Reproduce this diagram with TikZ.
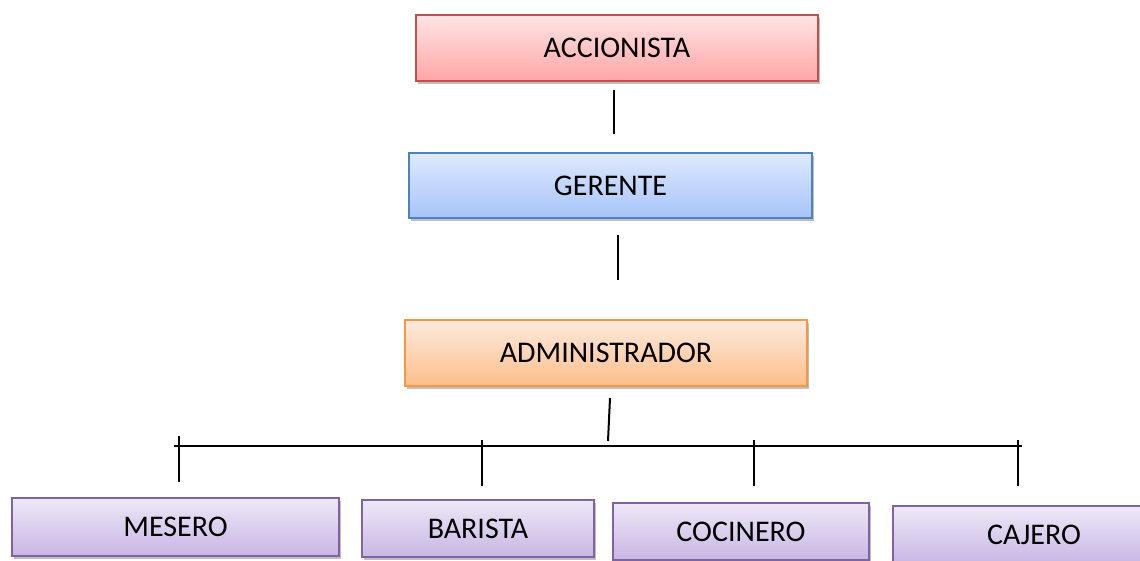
\documentclass[tikz,border=0pt]{standalone}
\usepackage{fontspec}
\setmainfont{Carlito}
\usetikzlibrary{shadows}
\begin{document}
\begin{tikzpicture}[x=1pt,y=-1pt,
  box/.style={rectangle, inner sep=0pt, line width=1.6pt,
    font=\fontsize{30}{36}\selectfont, text=black,
    drop shadow={shadow xshift=2pt, shadow yshift=-3pt, fill=black, opacity=0.25}},
  redbox/.style={box, draw={rgb,255:red,192;green,80;blue,77}, top color={rgb,255:red,255;green,228;blue,228}, bottom color={rgb,255:red,255;green,166;blue,166}},
  bluebox/.style={box, draw={rgb,255:red,79;green,129;blue,189}, top color={rgb,255:red,222;green,233;blue,253}, bottom color={rgb,255:red,166;green,196;blue,250}},
  orangebox/.style={box, draw={rgb,255:red,247;green,150;blue,70}, top color={rgb,255:red,254;green,234;blue,222}, bottom color={rgb,255:red,251;green,190;blue,138}},
  purplebox/.style={box, draw={rgb,255:red,128;green,100;blue,162}, top color={rgb,255:red,238;green,232;blue,247}, bottom color={rgb,255:red,200;green,182;blue,228}},
  conn/.style={draw=black, line width=2pt}]
\useasboundingbox (0,0) rectangle (1140,561);
\clip (0,0) rectangle (1140,561);

\node[redbox, minimum width=402pt, minimum height=66pt] (acc) at (617,48) {ACCIONISTA};
\node[bluebox, minimum width=403pt, minimum height=65pt] (ger) at (610.5,185.5) {GERENTE};
\node[orangebox, minimum width=402pt, minimum height=66pt] (adm) at (606,353) {ADMINISTRADOR};

\node[purplebox, minimum width=327pt, minimum height=58pt] (mes) at (175.5,527) {MESERO};
\node[purplebox, minimum width=232pt, minimum height=57pt] (bar) at (478,528.5) {BARISTA};
\node[purplebox, minimum width=256pt, minimum height=57pt] (coc) at (741,531.5) {COCINERO};
\node[purplebox, minimum width=282pt, minimum height=58pt] (caj) at (1034,535) {CAJERO};

% connectors
\coordinate (a1) at (614,90);  \coordinate (a2) at (614,134);
\coordinate (g1) at (618,235); \coordinate (g2) at (618,280);
\coordinate (d1) at (610,398); \coordinate (d2) at (608,441);
\coordinate (hl) at (174,446); \coordinate (hr) at (1022,446);
\coordinate (t1a) at (179,436); \coordinate (t1b) at (179,482);
\coordinate (t2a) at (482,440); \coordinate (t2b) at (482,486);
\coordinate (t3a) at (754,440); \coordinate (t3b) at (754,486);
\coordinate (t4a) at (1018,440); \coordinate (t4b) at (1018,486);

\draw[conn] (a1) -- (a2);
\draw[conn] (g1) -- (g2);
\draw[conn] (d1) -- (d2);
\draw[conn] (hl) -- (hr);
\draw[conn] (t1a) -- (t1b);
\draw[conn] (t2a) -- (t2b);
\draw[conn] (t3a) -- (t3b);
\draw[conn] (t4a) -- (t4b);
\end{tikzpicture}
\end{document}
